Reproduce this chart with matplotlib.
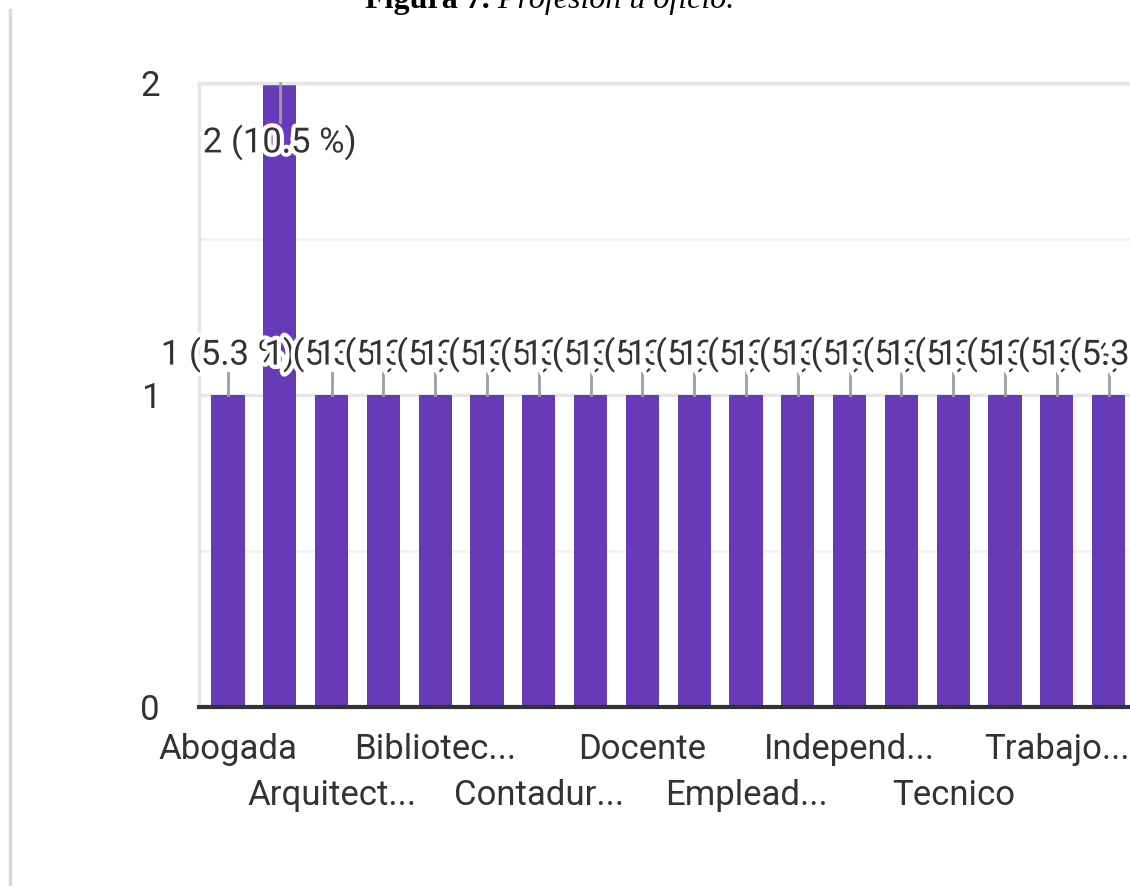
import matplotlib
matplotlib.use("Agg")
import matplotlib.pyplot as plt
import matplotlib.patheffects as pe
import numpy as np

# datos de la figura (respuestas por profesion, 19 en total)
etiquetas = ["Abogada", "", "Arquitect...", "", "Bibliotec...", "", "Contadur...", "",
             "Docente", "", "Emplead...", "", "Independ...", "", "Tecnico", "",
             "Trabajo...", ""]
valores = [1, 2, 1, 1, 1, 1, 1, 1, 1, 1, 1, 1, 1, 1, 1, 1, 1, 1]
total = 19
yticks = [0, 1, 2]

morado = "#673ab7"
gris_txt = "#333333"

plt.rcParams["font.family"] = ["Roboto", "DejaVu Sans"]

fig = plt.figure(figsize=(11.3, 8.86), dpi=100)
ax = fig.add_axes([0.1761, 0.2020, 0.8279, 0.7043])

x = np.arange(len(valores))
ax.bar(x, valores, width=0.64, color=morado, zorder=2)

ax.set_xlim(-0.56, 17.5)
ax.set_ylim(0, 2)

# etiquetas de valor con linea guia
for i, v in enumerate(valores):
    txt = "%d (%.1f %%)" % (v, 100.0 * v / total)
    if v == 2:
        ax.plot([i, i], [2.0, 1.875], color="#9e9e9e", lw=2, zorder=3, clip_on=False)
        ty = 1.81
    else:
        ax.plot([i, i], [1.0, 1.07], color="#9e9e9e", lw=2, zorder=3)
        ty = 1.13
    ax.text(i, ty, txt, ha="center", va="center", fontsize=25, color=gris_txt,
            zorder=4 + i, clip_on=False,
            path_effects=[pe.withStroke(linewidth=6, foreground="white")])

# ejes y rejilla
ax.set_yticks(yticks)
ax.set_yticklabels([str(t) for t in yticks])
ax.set_yticks([0.5, 1.5], minor=True)
ax.grid(axis="y", which="major", color="#e6e6e6", lw=2.5, zorder=0)
ax.grid(axis="y", which="minor", color="#f2f2f2", lw=2, zorder=0)
ax.tick_params(axis="y", which="both", length=0, pad=28, labelsize=25, labelcolor=gris_txt)

fila1 = [i for i in range(len(etiquetas)) if etiquetas[i] and i % 4 == 0]
fila2 = [i for i in range(len(etiquetas)) if etiquetas[i] and i % 4 == 2]
ax.set_xticks(fila1)
ax.set_xticklabels([etiquetas[i] for i in fila1])
ax.set_xticks(fila2, minor=True)
ax.set_xticklabels([etiquetas[i] for i in fila2], minor=True)
ax.tick_params(axis="x", which="major", length=0, pad=19, labelsize=25, labelcolor=gris_txt)
ax.tick_params(axis="x", which="minor", length=0, pad=52, labelsize=25, labelcolor=gris_txt)

for s in ["top", "left"]:
    ax.spines[s].set_color("#e6e6e6")
    ax.spines[s].set_linewidth(2.5)
ax.spines["right"].set_visible(False)
ax.spines["bottom"].set_color("#333333")
ax.spines["bottom"].set_linewidth(3)
ax.spines["bottom"].set_zorder(5)

# titulo cortado arriba y borde gris a la izquierda
fig.text(490 / 1130, 1 - 8 / 886, "Figura 7.", ha="right", va="baseline",
         fontsize=23, fontweight="bold", family="Liberation Serif")
fig.text(490 / 1130, 1 - 8 / 886, " Profesión u oficio.", ha="left", va="baseline",
         fontsize=23, style="italic", family="Liberation Serif")
fig.add_artist(plt.Line2D([9.5 / 1130, 9.5 / 1130], [0, 1 - 10 / 886],
                          color="#d9d9d9", lw=2.5, transform=fig.transFigure))

fig.savefig("out.png", dpi=100)
